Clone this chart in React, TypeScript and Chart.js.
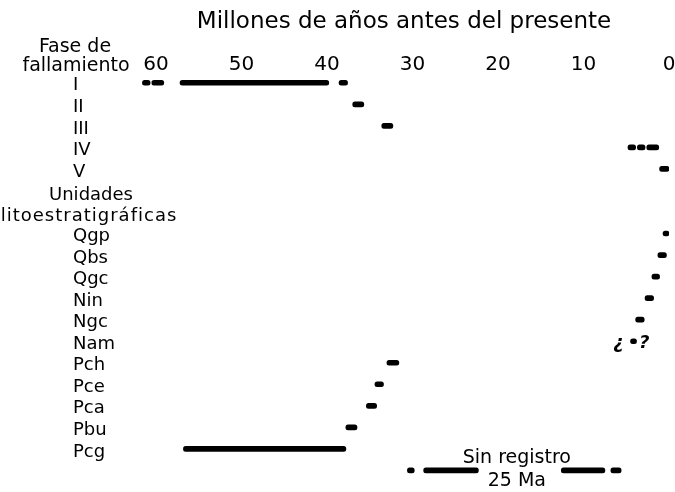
import { useEffect, useRef } from 'react';
import { Chart, registerables } from 'chart.js';

Chart.register(...registerables);

// Row categories (top to bottom); empty strings are header rows / the gap row
const rowLabels = ['I', 'II', 'III', 'IV', 'V', '', '', 'Qgp', 'Qbs', 'Qgc', 'Nin', 'Ngc', 'Nam', 'Pch', 'Pce', 'Pca', 'Pbu', 'Pcg', ''];

// Time ranges in millions of years before present, [older, younger]; null = no mark
type Seg = [number, number] | null;
const segmentA: Seg[] = [[61.6, 60.7], [37.0, 35.7], [33.6, 32.3], [4.8, 3.9], [1.1, 0], null, null, [0.7, 0], [1.3, 0.3], [2.0, 1.1], [2.8, 1.8], [3.9, 2.9], [4.5, 3.8], [33.0, 31.6], [34.4, 33.4], [35.4, 34.2], [37.8, 36.5], [56.8, 37.8], [30.6, 29.8]];
const segmentB: Seg[] = [[60.5, 59.1], null, null, [3.7, 2.8], null, null, null, null, null, null, null, null, null, null, null, null, null, null, [28.7, 22.3]];
const segmentC: Seg[] = [[57.2, 39.8], null, null, [2.6, 1.2], null, null, null, null, null, null, null, null, null, null, null, null, null, null, [12.6, 7.5]];
const segmentD: Seg[] = [[38.6, 37.6], null, null, null, null, null, null, null, null, null, null, null, null, null, null, null, null, null, [6.8, 5.6]];

const axisTitle = 'Millones de años antes del presente';
const phaseHeader = ['Fase de', 'fallamiento'];
const unitHeader = ['Unidades', 'litoestratigráficas'];
const gapTexts = ['Sin registro', '25 Ma'];
const gapTextMa = 17.8;
const uncertainTexts = ['¿', '?'];
const uncertainMa = [5.9, 2.9];
const uncertainRow = 'Nam';

const family = '"DejaVu Sans", sans-serif';
const ink = '#000000';

const annotate = {
  id: 'annotate',
  afterDraw(chart: any) {
    const { ctx, scales } = chart;
    const x = scales.x;
    const y = scales.y;
    ctx.save();
    ctx.fillStyle = ink;
    ctx.textBaseline = 'middle';
    ctx.textAlign = 'center';
    ctx.font = `19px ${family}`;
    const left = y.left;
    ctx.fillText(phaseHeader[0], left + 2, 47);
    ctx.fillText(phaseHeader[1], left + 3, 66);
    ctx.font = `18px ${family}`;
    ctx.fillText(unitHeader[0], left + 18, y.getPixelForValue(5) + 5);
    try { (ctx as any).letterSpacing = '1px'; } catch (e) { }
    ctx.fillText(unitHeader[1], left + 16, y.getPixelForValue(6) + 4);
    try { (ctx as any).letterSpacing = '0px'; } catch (e) { }
    const gapRow = rowLabels.length - 1;
    const gy = y.getPixelForValue(gapRow);
    const gx = x.getPixelForValue(gapTextMa);
    ctx.font = `19px ${family}`;
    ctx.fillText(gapTexts[0], gx, gy - 12);
    ctx.fillText(gapTexts[1], gx, gy + 11);
    const ny = y.getPixelForValue(rowLabels.indexOf(uncertainRow));
    ctx.font = `italic bold 18px ${family}`;
    uncertainTexts.forEach((t, i) => {
      ctx.fillText(t, x.getPixelForValue(uncertainMa[i]), ny + 2);
    });
    ctx.restore();
  },
};

export default function App() {
  const ref = useRef<HTMLCanvasElement | null>(null);
  useEffect(() => {
    if (!ref.current) return;
    const datasets = [segmentA, segmentB, segmentC, segmentD].map((d) => ({
      data: d as any,
      backgroundColor: ink,
      borderWidth: 0,
      barThickness: 5,
      borderRadius: 2.5,
      borderSkipped: false,
      grouped: false,
    }));
    const chart = new Chart(ref.current, {
      type: 'bar',
      data: { labels: rowLabels, datasets },
      options: {
        indexAxis: 'y',
        animation: false,
        responsive: false,
        maintainAspectRatio: false,
        layout: { padding: { left: 73, top: 0, bottom: 8, right: 6 } },
        plugins: { legend: { display: false }, tooltip: { enabled: false } },
        scales: {
          x: {
            type: 'linear',
            position: 'top',
            reverse: true,
            min: 0,
            max: 62,
            ticks: {
              stepSize: 10,
              includeBounds: false,
              color: ink,
              font: { family, size: 20 },
              padding: -5,
              maxRotation: 0,
            },
            grid: { display: false, drawTicks: false },
            border: { display: false },
            title: {
              display: true,
              text: axisTitle,
              color: ink,
              font: { family, size: 23 },
              padding: { top: 8, bottom: 0 },
            },
            afterFit: (s: any) => { s.height = 72; },
          },
          y: {
            type: 'category',
            ticks: {
              crossAlign: 'far',
              color: ink,
              font: { family, size: 18 },
              padding: 0,
              labelOffset: 3,
              autoSkip: false,
            },
            grid: { display: false, drawTicks: false },
            border: { display: false },
            afterFit: (s: any) => { s.width = 66; },
          },
        },
      } as any,
      plugins: [annotate],
    });
    return () => chart.destroy();
  }, []);
  return (
    <div style={{ position: 'absolute', left: 0, top: 0, width: 675, height: 492, overflow: 'hidden' }}>
      <canvas ref={ref} width={675} height={492} style={{ display: 'block' }} />
    </div>
  );
}
